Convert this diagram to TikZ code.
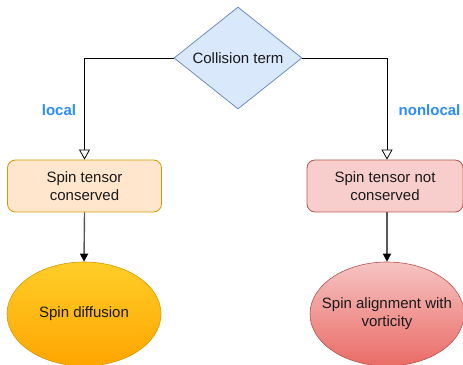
\documentclass[tikz,border=0pt]{standalone}
\usepackage{fontspec}
\setmainfont{Liberation Sans}
\usetikzlibrary{shapes.geometric,arrows.meta,calc}
\definecolor{dfill}{HTML}{DAE8FC}
\definecolor{dline}{HTML}{6C8EBF}
\definecolor{ofill}{HTML}{FFE6CC}
\definecolor{oline}{HTML}{D79B00}
\definecolor{rfill}{HTML}{F8CECC}
\definecolor{rline}{HTML}{B85450}
\definecolor{otop}{HTML}{FFCD28}
\definecolor{obot}{HTML}{FFA500}
\definecolor{rtop}{HTML}{F6C4C2}
\definecolor{rbot}{HTML}{EA6B66}
\definecolor{lblue}{HTML}{2A8CFF}
\definecolor{txt}{HTML}{1A1A1A}
\tikzset{
  every node/.style={font=\fontsize{15}{18}\selectfont, text=txt},
  decision/.style={diamond, aspect=1.255, inner sep=0pt, minimum width=128pt, minimum height=102pt, fill=dfill, draw=dline, line width=0.8pt},
  stepbox/.style={rectangle, rounded corners=8pt, minimum height=52pt, align=center, line width=0.8pt},
  result/.style={ellipse, minimum width=154pt, minimum height=104pt, inner sep=0pt, line width=0.6pt},
  rlabel/.style={align=center, inner sep=0pt},
  branch/.style={draw=black, line width=0.8pt, -{Triangle[open, fill=white, length=10pt, width=11pt]}},
  down/.style={draw=black!65, line width=1.4pt, -{Triangle[length=8pt, width=8pt, color=black]}},
  cond/.style={font=\bfseries\fontsize{15}{18}\selectfont, text=lblue}
}
\begin{document}
\begin{tikzpicture}[x=1pt,y=1pt]
\useasboundingbox (0,0) rectangle (463,364);
\node[decision] (d) at (238,306) {Collision term};
\node[stepbox, fill=ofill, draw=oline, minimum width=154pt] (l) at (84.5,178) {Spin tensor\\conserved};
\node[stepbox, fill=rfill, draw=rline, minimum width=156pt] (r) at (385,178) {Spin tensor not\\conserved};
\node[result, top color=otop, bottom color=obot, draw=oline] (le) at (84,50) {};
\node[rlabel] (let) at (le.center) {Spin diffusion};
\node[result, top color=rtop, bottom color=rbot, draw=rline] (re) at (387,50) {};
\node[rlabel] (ret) at (re.center) {Spin alignment with\\vorticity};
\coordinate (rx) at (387,0);
\draw[branch] (d.west) -| (l.north);
\draw[branch] (d.east) -| (rx |- r.north);
\draw[down] (l.south) -- (le.north);
\draw[down] (rx |- r.south) -- (re.north);
\node[cond] (loc) at (59,254) {local};
\node[cond] (nloc) at (429.5,253.5) {nonlocal};
\end{tikzpicture}
\end{document}
